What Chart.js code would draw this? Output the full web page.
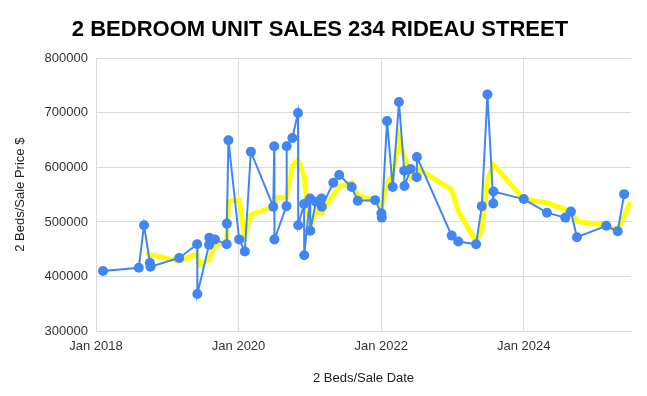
<!DOCTYPE html>
<html>
<head>
<meta charset="utf-8">
<script src="https://cdn.jsdelivr.net/npm/chart.js@4/dist/chart.umd.min.js"></script>
<style>
  html, body { margin: 0; padding: 0; background: #fff; }
  #wrap { width: 647px; height: 396px; position: relative; }
</style>
</head>
<body>
<div id="wrap"><canvas id="c"></canvas></div>
<script>
'use strict';

// sale dates and prices
var saleDates = [
    '2018-02-06', '2018-08-08', '2018-09-04', '2018-10-04', '2018-10-07', '2019-03-03',
    '2019-06-03', '2019-06-04', '2019-08-03', '2019-08-04', '2019-09-02', '2019-11-01',
    '2019-11-02', '2019-11-10', '2020-01-04', '2020-02-02', '2020-03-04', '2020-06-27',
    '2020-07-02', '2020-07-03', '2020-09-03', '2020-09-04', '2020-10-03', '2020-11-01',
    '2020-11-02', '2020-12-02', '2020-12-03', '2021-01-02', '2021-01-03', '2021-02-01',
    '2021-03-02', '2021-03-03', '2021-05-01', '2021-05-31', '2021-08-03', '2021-09-03',
    '2021-12-01', '2022-01-02', '2022-01-04', '2022-01-31', '2022-03-01', '2022-04-02',
    '2022-04-29', '2022-04-30', '2022-06-01', '2022-07-02', '2022-07-03', '2022-12-28',
    '2023-01-31', '2023-05-02', '2023-05-31', '2023-06-29', '2023-07-29', '2023-07-30',
    '2024-01-01', '2024-04-29', '2024-08-01', '2024-08-30', '2024-09-30', '2025-02-27',
    '2025-04-27', '2025-05-30'
];
var salePrices = [
    410000, 416000, 494000, 425000, 418000, 434000,
    459000, 368000, 458000, 471000, 468000, 459000,
    497000, 650000, 468000, 446000, 629000, 528000,
    639000, 468000, 529000, 639000, 654000, 700000,
    494000, 533000, 439000, 543000, 484000, 537000,
    543000, 528000, 572000, 586000, 564000, 539000,
    540000, 516000, 508000, 685000, 564000, 720000,
    594000, 566000, 597000, 582000, 619000, 475000,
    464000, 459000, 529000, 734000, 534000, 556000,
    542000, 517000, 508000, 519000, 472000, 493000,
    483000, 551000
];

// yellow trend line
var trendDates = [
    '2018-09-13', '2019-03-03', '2019-06-03', '2019-06-13', '2019-08-03', '2019-09-02',
    '2019-11-01', '2019-11-10', '2020-01-04', '2020-02-02', '2020-03-04', '2020-06-27',
    '2020-07-14', '2020-09-03', '2020-10-03', '2020-11-01', '2020-12-02', '2021-01-02',
    '2021-02-01', '2021-03-02', '2021-05-01', '2021-05-31', '2021-08-03', '2021-09-03',
    '2021-12-01', '2022-01-03', '2022-01-31', '2022-03-01', '2022-04-02', '2022-04-29',
    '2022-06-01', '2022-07-02', '2022-12-28', '2023-01-31', '2023-05-02', '2023-05-31',
    '2023-06-29', '2023-07-30', '2024-01-01', '2024-04-29', '2024-08-30', '2024-09-30',
    '2025-02-27', '2025-04-27', '2025-07-03'
];
var trendPrices = [
    442000, 428000, 442000, 421000, 431000, 457000,
    463000, 538000, 540000, 473000, 513000, 528000,
    545000, 545000, 603000, 614000, 584000, 489000,
    520000, 516000, 550000, 565000, 572000, 548000,
    540000, 528000, 571000, 586000, 654000, 620000,
    583000, 599000, 559000, 519000, 464000, 485000,
    577000, 605000, 542000, 535000, 519000, 501000,
    494000, 485000, 537000
];

var yTicks = [300000, 400000, 500000, 600000, 700000, 800000];
var xTickYears = [2018, 2020, 2022, 2024];

function toYear(s) {
    var p = s.split('-');
    var y = +p[0];
    var start = Date.UTC(y, 0, 1);
    var end = Date.UTC(y + 1, 0, 1);
    return y + (Date.UTC(y, +p[1] - 1, +p[2]) - start) / (end - start);
}

function toPoints(dates, values) {
    return dates.map(function (d, i) { return {x: toYear(d), y: values[i]}; });
}

var FONT = "Arial, 'Liberation Sans', sans-serif";

new Chart(document.getElementById('c'), {
    type: 'line',
    data: {
        datasets: [
            {
                data: toPoints(saleDates, salePrices),
                borderColor: '#4285f4',
                backgroundColor: '#4285f4',
                borderWidth: 2,
                pointRadius: 5,
                pointBorderWidth: 0,
                tension: 0
            },
            {
                data: toPoints(trendDates, trendPrices),
                borderColor: '#ffff00',
                borderWidth: 5,
                pointRadius: 0,
                tension: 0
            }
        ]
    },
    options: {
        responsive: true,
        maintainAspectRatio: false,
        animation: false,
        layout: {padding: {left: 9, right: 16, top: 0, bottom: 6}},
        plugins: {
            legend: {display: false},
            tooltip: {enabled: false},
            title: {
                display: true,
                text: '2 BEDROOM UNIT SALES 234 RIDEAU STREET',
                color: '#000',
                font: {family: FONT, size: 22, weight: 'bold'},
                padding: {top: 17, bottom: 15}
            }
        },
        scales: {
            x: {
                type: 'linear',
                min: 2018,
                max: toYear('2025-07-04'),
                afterBuildTicks: function (scale) {
                    scale.ticks = xTickYears.map(function (v) { return {value: v}; });
                },
                afterFit: function (scale) { scale.height = 59; },
                ticks: {
                    color: '#333',
                    font: {family: FONT, size: 13},
                    padding: 8,
                    maxRotation: 0,
                    autoSkip: false,
                    callback: function (v) { return 'Jan ' + v; }
                },
                grid: {color: '#dcdcdc', lineWidth: 1, drawTicks: false},
                border: {color: '#dcdcdc'},
                title: {
                    display: true,
                    text: '2 Beds/Sale Date',
                    color: '#222',
                    font: {family: FONT, size: 13},
                    padding: {top: 8}
                }
            },
            y: {
                min: 300000,
                max: 800000,
                afterBuildTicks: function (scale) {
                    scale.ticks = yTicks.map(function (v) { return {value: v}; });
                },
                afterFit: function (scale) { scale.width = 87; },
                ticks: {
                    color: '#333',
                    font: {family: FONT, size: 13},
                    padding: 8,
                    callback: function (v) { return String(v); }
                },
                grid: {color: '#dcdcdc', lineWidth: 1, drawTicks: false},
                border: {color: '#dcdcdc'},
                title: {
                    display: true,
                    text: '2 Beds/Sale Price $',
                    color: '#222',
                    font: {family: FONT, size: 13},
                    padding: {bottom: 0}
                }
            }
        }
    }
});
</script>
</body>
</html>
